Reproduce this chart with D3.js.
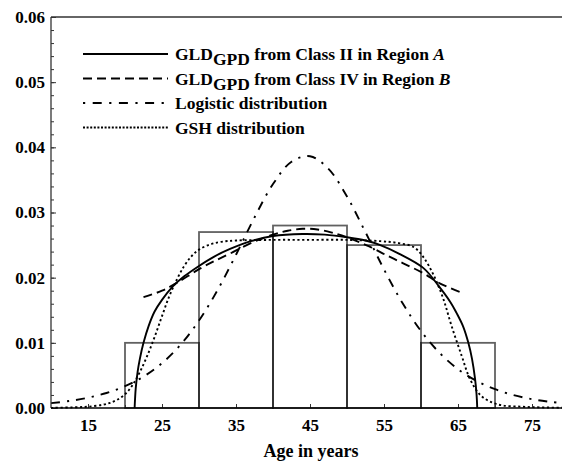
<!DOCTYPE html>
<html>
<head>
<meta charset="utf-8">
<script src="https://cdn.jsdelivr.net/npm/d3@7"></script>
<style>
  html, body { margin: 0; padding: 0; background: #fff; }
  svg { display: block; }
  text { font-family: "Liberation Serif", "Times New Roman", serif; font-weight: bold; fill: #000; }
</style>
</head>
<body>
<svg id="chart" width="562" height="461"></svg>
<script>
// Histogram of observed ages (10-year classes)
const binStarts  = [20, 30, 40, 50, 60];
const binEnds    = [30, 40, 50, 60, 70];
const binHeights = [0.010, 0.027, 0.028, 0.025, 0.010];

// GLD (GPD) fitted from Class II in Region A
const gldAAges   = [21.3, 21.45, 21.7, 22.0, 22.5, 23.2, 24, 25, 26.5, 28, 30, 32, 34.2, 37, 40, 44, 47, 50, 52.5, 54.5, 57, 60.3, 62.4, 64, 64.8, 65.7, 66.4, 66.9, 67.3, 67.5, 67.6];
const gldAValues = [0, 0.0030, 0.0055, 0.0075, 0.0100, 0.0126, 0.0148, 0.0166, 0.0187, 0.0202, 0.0218, 0.0232, 0.0244, 0.0256, 0.0264, 0.0267, 0.0266, 0.0262, 0.0257, 0.0250, 0.0237, 0.0215, 0.0187, 0.0162, 0.0146, 0.0125, 0.0100, 0.0075, 0.0045, 0.0022, 0];

// GLD (GPD) fitted from Class IV in Region B
const gldBAges   = [22.5, 25, 27, 30, 32, 34.2, 37, 40, 42, 44, 46, 48, 50, 53, 55.4, 57.6, 60.3, 62.6, 65.7];
const gldBValues = [0.0170, 0.0180, 0.0192, 0.0213, 0.0225, 0.0237, 0.0253, 0.0266, 0.0272, 0.0275, 0.0274, 0.0269, 0.0262, 0.0248, 0.0234, 0.0222, 0.0207, 0.0191, 0.0176];

// Logistic distribution
const logisticAges   = [10, 12.5, 15, 17.5, 20, 22.5, 25, 27.5, 30, 32.5, 35, 37.5, 40, 42.5, 45, 47.5, 50, 52.5, 55, 57.5, 60, 62.5, 65, 67.5, 70, 72.5, 75, 77.5, 80];
const logisticValues = [0.00074, 0.00108, 0.00158, 0.00230, 0.00334, 0.00481, 0.00688, 0.00969, 0.01342, 0.01807, 0.02352, 0.02924, 0.03436, 0.03779, 0.03864, 0.03669, 0.03245, 0.02697, 0.02127, 0.01610, 0.01181, 0.00847, 0.00597, 0.00416, 0.00288, 0.00198, 0.00135, 0.00094, 0.00063];

// GSH distribution
const gshAges   = [10, 13, 15, 17, 18, 19, 20, 21, 22, 23, 24, 25, 26, 27, 28, 29, 30, 31.5, 33, 35, 40, 45, 50, 54.5, 57, 59, 60.3, 61.7, 63, 64.1, 65.5, 66.6, 68, 69.5, 71, 73.5, 76, 80];
const gshValues = [0.00002, 0.0001, 0.0002, 0.0005, 0.0008, 0.0013, 0.0021, 0.0035, 0.0055, 0.0080, 0.0109, 0.0141, 0.0172, 0.0197, 0.0218, 0.0233, 0.0243, 0.0251, 0.0255, 0.0257, 0.0258, 0.0258, 0.0258, 0.0256, 0.0253, 0.0247, 0.0232, 0.0204, 0.0168, 0.0127, 0.0080, 0.0045, 0.0020, 0.0009, 0.0004, 0.0002, 0.0001, 0.00003];

// Axis ticks
const ageTicks      = [15, 25, 35, 45, 55, 65, 75];
const ageMinorTicks = [20, 30, 40, 50, 60, 70];
const densityTicks  = [0, 0.01, 0.02, 0.03, 0.04, 0.05, 0.06];
const densityMinor  = d3.range(0, 0.0601, 0.002);
const xTitle = "Age in years";

const svg = d3.select("#chart");

const x = d3.scaleLinear().domain([10, 80]).range([51, 569]);
const y = d3.scaleLinear().domain([0, 0.06]).range([408, 17]);

// Histogram bars
svg.append("g").selectAll("rect")
  .data(binStarts.map((s, i) => ({ s, e: binEnds[i], h: binHeights[i] })))
  .join("rect")
  .attr("x", d => x(d.s))
  .attr("y", d => y(d.h))
  .attr("width", d => x(d.e) - x(d.s))
  .attr("height", d => y(0) - y(d.h))
  .attr("fill", "none")
  .attr("stroke", "#000")
  .attr("stroke-opacity", 0.62)
  .attr("stroke-width", 1.8);

const line = d3.line()
  .x(d => x(d[0]))
  .y(d => y(d[1]))
  .curve(d3.curveCatmullRom.alpha(0.5));

const series = [
  { ages: gldAAges, values: gldAValues, dash: null },
  { ages: gldBAges, values: gldBValues, dash: "9,5" },
  { ages: logisticAges, values: logisticValues, dash: "9,7,2.2,7" },
  { ages: gshAges, values: gshValues, dash: "2.2,2.6" }
];

svg.append("g").selectAll("path")
  .data(series)
  .join("path")
  .attr("d", d => line(d.ages.map((a, i) => [a, d.values[i]])))
  .attr("fill", "none")
  .attr("stroke", "#000")
  .attr("stroke-width", 1.9)
  .attr("stroke-dasharray", d => d.dash);

// Axes: ticks point inward
const yAxis = svg.append("g").attr("transform", `translate(${x(10)},0)`)
  .call(d3.axisLeft(y).tickValues(densityTicks).tickSize(-5).tickPadding(6).tickFormat(d3.format(".2f")));
const yMinor = svg.append("g").attr("transform", `translate(${x(10)},0)`)
  .call(d3.axisLeft(y).tickValues(densityMinor).tickSize(-3).tickFormat(""));
const xAxis = svg.append("g").attr("transform", `translate(0,${y(0)})`)
  .call(d3.axisBottom(x).tickValues(ageTicks).tickSize(-4).tickPadding(11).tickFormat(d3.format("d")));
const xMinor = svg.append("g").attr("transform", `translate(0,${y(0)})`)
  .call(d3.axisBottom(x).tickValues(ageMinorTicks).tickSize(-3).tickFormat(""));

[yAxis, yMinor, xAxis, xMinor].forEach(g => {
  g.select(".domain").remove();
  g.selectAll("line").attr("stroke", "#333").attr("stroke-width", 1);
  g.selectAll("text").attr("font-size", 17).attr("font-family", "Liberation Serif, serif").attr("font-weight", "bold");
});

// Frame lines
svg.append("line").attr("x1", x(10)).attr("x2", x(10)).attr("y1", y(0.06)).attr("y2", y(0))
  .attr("stroke", "#333").attr("stroke-width", 1.3);
svg.append("line").attr("x1", x(10)).attr("x2", 562).attr("y1", y(0.06)).attr("y2", y(0.06))
  .attr("stroke", "#333").attr("stroke-width", 1.3);
svg.append("line").attr("x1", x(10)).attr("x2", 562).attr("y1", y(0)).attr("y2", y(0))
  .attr("stroke", "#000").attr("stroke-width", 1.6);

// Axis title
svg.append("text").attr("x", 311).attr("y", 457).attr("text-anchor", "middle")
  .attr("font-size", 18).text(xTitle);

// Legend
const legend = svg.append("g");
const rows = [
  { dash: null, parts: [["GLD", 0], ["GPD", 1], [" from Class II in Region ", 0], ["A", 2]] },
  { dash: "9,5", parts: [["GLD", 0], ["GPD", 1], [" from Class IV in Region ", 0], ["B", 2]] },
  { dash: "2.2,7.5,9,7.5", parts: [["Logistic distribution", 0]] },
  { dash: "2,1.6", parts: [["GSH distribution", 0]] }
];
const rowY = [54, 78.5, 103, 127.5];
rows.forEach((r, i) => {
  legend.append("line").attr("x1", 83).attr("x2", 168).attr("y1", rowY[i]).attr("y2", rowY[i])
    .attr("stroke", "#000").attr("stroke-width", 1.9).attr("stroke-dasharray", r.dash);
  const t = legend.append("text").attr("x", 175).attr("y", rowY[i] + 6).attr("font-size", 17.5);
  let shifted = false;
  r.parts.forEach(([s, kind]) => {
    const ts = t.append("tspan").text(s);
    if (kind === 1) { ts.attr("dy", 5); shifted = true; }
    else if (shifted) { ts.attr("dy", -5); shifted = false; }
    if (kind === 2) ts.attr("font-style", "italic");
  });
});
</script>
</body>
</html>
